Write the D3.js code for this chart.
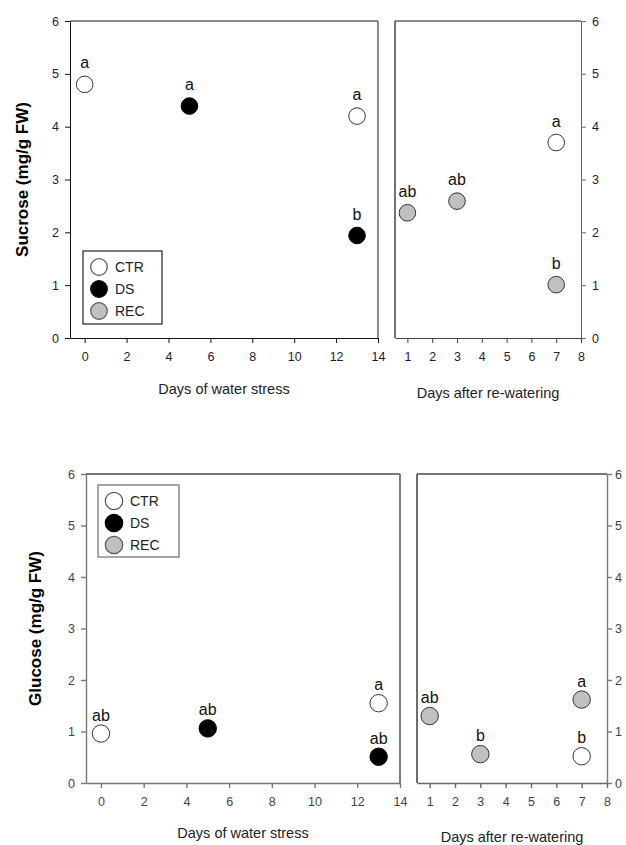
<!DOCTYPE html>
<html>
<head>
<meta charset="utf-8">
<script src="https://cdn.jsdelivr.net/npm/d3@7"></script>
<style>
  body { margin: 0; background: #fff; }
  svg { display: block; font-family: "Liberation Sans", Arial, sans-serif; }
</style>
</head>
<body>
<div id="chart"></div>
<script>
// groups and their fills
const groups = ['CTR', 'DS', 'REC'];
const groupFill = ['#ffffff', '#000000', '#c0c0c0'];

// tick values
const yTicks = [0, 1, 2, 3, 4, 5, 6];
const stressTicks = [0, 2, 4, 6, 8, 10, 12, 14];
const recoveryTicks = [1, 2, 3, 4, 5, 6, 7, 8];

// sucrose (mg/g FW)
const sucroseStress = [
    {group: 'CTR', day: 0, value: 4.8, letter: 'a'},
    {group: 'DS', day: 5, value: 4.39, letter: 'a'},
    {group: 'CTR', day: 13, value: 4.2, letter: 'a'},
    {group: 'DS', day: 13, value: 1.94, letter: 'b'}
];
const sucroseRecovery = [
    {group: 'REC', day: 1, value: 2.37, letter: 'ab'},
    {group: 'REC', day: 3, value: 2.59, letter: 'ab'},
    {group: 'CTR', day: 7, value: 3.7, letter: 'a'},
    {group: 'REC', day: 7, value: 1.01, letter: 'b'}
];

// glucose (mg/g FW)
const glucoseStress = [
    {group: 'CTR', day: 0, value: 0.96, letter: 'ab'},
    {group: 'DS', day: 5, value: 1.06, letter: 'ab'},
    {group: 'CTR', day: 13, value: 1.55, letter: 'a'},
    {group: 'DS', day: 13, value: 0.51, letter: 'ab'}
];
const glucoseRecovery = [
    {group: 'REC', day: 1, value: 1.3, letter: 'ab'},
    {group: 'REC', day: 3, value: 0.56, letter: 'b'},
    {group: 'REC', day: 7, value: 1.62, letter: 'a'},
    {group: 'CTR', day: 7, value: 0.52, letter: 'b'}
];

const W = 626, H = 845;
const svg = d3.select('#chart').append('svg').attr('width', W).attr('height', H);
const fill = d3.scaleOrdinal().domain(groups).range(groupFill);
const fmt = d3.format('d');

function drawChart(cfg) {
    let g = svg.append('g');
    let y = d3.scaleLinear().domain([0, 6]).range([cfg.bottom, cfg.top]);
    let xS = d3.scaleLinear().domain([-0.7, 14]).range([cfg.l0, cfg.l1]);
    let xR = d3.scaleLinear().domain([0.5, 8]).range([cfg.r0, cfg.r1]);

    function styleAxis(sel, stroke) {
        sel.selectAll('path, line').attr('stroke', stroke).attr('stroke-width', cfg.sw);
        sel.selectAll('text')
            .attr('fill', cfg.tickColor)
            .style('font-size', cfg.tickSize + 'px')
            .style('font-family', '"Liberation Sans", Arial, sans-serif');
    }

    // left panel
    g.append('line')
        .attr('x1', cfg.l0).attr('x2', cfg.l1).attr('y1', cfg.top).attr('y2', cfg.top)
        .attr('stroke', cfg.frame).attr('stroke-width', cfg.sw + 0.5);
    g.append('line')
        .attr('x1', cfg.l1).attr('x2', cfg.l1).attr('y1', cfg.top).attr('y2', cfg.bottom)
        .attr('stroke', cfg.frame).attr('stroke-width', cfg.sw + 0.5);
    g.append('g').attr('transform', `translate(${cfg.l0},0)`)
        .call(d3.axisLeft(y).tickValues(yTicks).tickFormat(fmt).tickSize(5).tickSizeOuter(0).tickPadding(6))
        .call(s => styleAxis(s, cfg.axis));
    g.append('g').attr('transform', `translate(0,${cfg.bottom})`)
        .call(d3.axisBottom(xS).tickValues(stressTicks).tickFormat(fmt).tickSize(5).tickSizeOuter(0).tickPadding(9))
        .call(s => styleAxis(s, cfg.axis));

    // right panel
    g.append('line')
        .attr('x1', cfg.r0).attr('x2', cfg.r1).attr('y1', cfg.top).attr('y2', cfg.top)
        .attr('stroke', cfg.frame).attr('stroke-width', cfg.sw + 0.5);
    g.append('line')
        .attr('x1', cfg.r0).attr('x2', cfg.r0).attr('y1', cfg.top).attr('y2', cfg.bottom)
        .attr('stroke', cfg.frame2).attr('stroke-width', cfg.sw + 0.5);
    g.append('g').attr('transform', `translate(${cfg.r1},0)`)
        .call(d3.axisRight(y).tickValues(yTicks).tickFormat(fmt).tickSize(5).tickSizeOuter(0).tickPadding(cfg.rightPad))
        .call(s => styleAxis(s, cfg.frame));
    g.append('g').attr('transform', `translate(0,${cfg.bottom})`)
        .call(d3.axisBottom(xR).tickValues(recoveryTicks).tickFormat(fmt).tickSize(5).tickSizeOuter(0).tickPadding(9))
        .call(s => styleAxis(s, cfg.frame2));

    // points + letters
    let pts = cfg.stress.map(d => ({...d, x: xS(d.day)}))
        .concat(cfg.recovery.map(d => ({...d, x: xR(d.day)})));
    g.selectAll('.pt').data(pts).enter().append('circle')
        .attr('class', 'pt')
        .attr('cx', d => d.x)
        .attr('cy', d => y(d.value))
        .attr('r', cfg.r)
        .attr('fill', d => fill(d.group))
        .attr('stroke', d => d.group === 'DS' ? '#000' : '#333')
        .attr('stroke-width', 1);
    g.selectAll('.lt').data(pts).enter().append('text')
        .attr('class', 'lt')
        .attr('x', d => d.x)
        .attr('y', d => y(d.value) - cfg.letterOff)
        .attr('text-anchor', 'middle')
        .style('font-size', '16px')
        .attr('fill', '#111')
        .text(d => d.letter);

    // legend
    let lg = g.append('g');
    lg.append('rect')
        .attr('x', cfg.legend.x).attr('y', cfg.legend.y)
        .attr('width', cfg.legend.w).attr('height', cfg.legend.h)
        .attr('fill', '#fff').attr('stroke', cfg.legend.stroke).attr('stroke-width', 1.3);
    groups.forEach((grp, i) => {
        let cy = cfg.legend.y + 16 + i * 22;
        lg.append('circle')
            .attr('cx', cfg.legend.x + 16).attr('cy', cy).attr('r', cfg.r)
            .attr('fill', fill(grp)).attr('stroke', grp === 'DS' ? '#000' : '#555').attr('stroke-width', 1.2);
        lg.append('text')
            .attr('x', cfg.legend.x + 32).attr('y', cy + 5)
            .style('font-size', '14px').attr('fill', '#222')
            .text(grp);
    });

    // titles
    g.append('text')
        .attr('transform', `translate(${cfg.yTitleX},${(cfg.top + cfg.bottom) / 2}) rotate(-90)`)
        .attr('text-anchor', 'middle')
        .attr('dy', '0.35em')
        .style('font-size', '17px').style('font-weight', 'bold').attr('fill', '#000')
        .text(cfg.yTitle);
    g.append('text')
        .attr('x', (cfg.l0 + cfg.l1) / 2).attr('y', cfg.xTitleY)
        .attr('text-anchor', 'middle')
        .style('font-size', '14.5px').attr('fill', '#222')
        .text('Days of water stress');
    g.append('text')
        .attr('x', (cfg.r0 + cfg.r1) / 2).attr('y', cfg.xTitleY + 4)
        .attr('text-anchor', 'middle')
        .style('font-size', '14.5px').attr('fill', '#222')
        .text('Days after re-watering');
}

drawChart({
    top: 21, bottom: 338, l0: 70, l1: 378, r0: 395, r1: 581,
    sw: 1, axis: '#111', frame: '#666', frame2: '#444', tickColor: '#1c1c30', tickSize: 12.5,
    r: 8.3, letterOff: 16, rightPad: 6,
    stress: sucroseStress, recovery: sucroseRecovery,
    legend: {x: 83, y: 251, w: 79, h: 73, stroke: '#333'},
    yTitle: 'Sucrose (mg/g FW)', yTitleX: 22, xTitleY: 394
});

drawChart({
    top: 474, bottom: 783, l0: 86, l1: 400, r0: 417, r1: 607,
    sw: 1.4, axis: '#777', frame: '#777', frame2: '#666', tickColor: '#444', tickSize: 12.5,
    r: 8.7, letterOff: 13, rightPad: 3,
    stress: glucoseStress, recovery: glucoseRecovery,
    legend: {x: 98, y: 485, w: 81, h: 72, stroke: '#777'},
    yTitle: 'Glucose (mg/g FW)', yTitleX: 35, xTitleY: 838
});
</script>
</body>
</html>
